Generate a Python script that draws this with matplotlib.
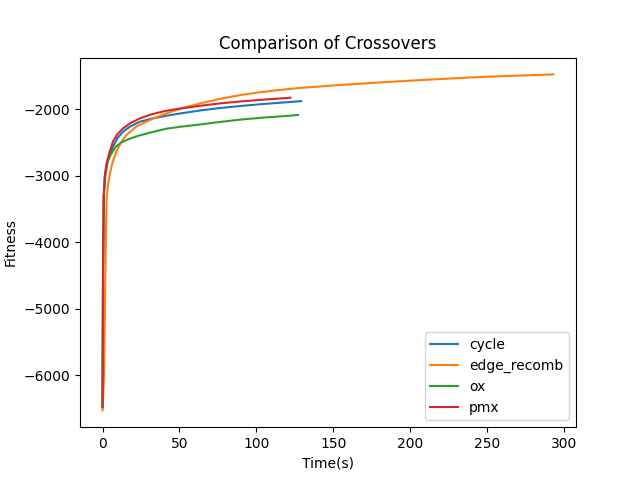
import matplotlib
matplotlib.use("Agg")
import matplotlib.pyplot as plt

# time (s) and best fitness per crossover operator
cycle_t = [0, 0.3, 0.8, 1.8, 3.5, 6.7, 9.5, 13.2, 18, 24, 32, 41, 50, 63, 75, 90, 105, 118, 129]
cycle_f = [-6490, -4500, -3300, -3000, -2770, -2567, -2440, -2340, -2260, -2190, -2140, -2100,
           -2065, -2020, -1985, -1950, -1920, -1898, -1878]

edge_t = [0, 1.0, 1.8, 2.6, 3.5, 4.6, 6.5, 8.9, 12, 15.4, 22, 30.6, 38, 45.7, 55, 63, 76, 90,
          102, 115, 128, 154, 180, 210, 239, 265, 293]
edge_f = [-6530, -6000, -4500, -3350, -3150, -2990, -2800, -2640, -2500, -2390, -2260, -2165,
          -2090, -2030, -1965, -1915, -1845, -1785, -1745, -1710, -1680, -1635, -1597, -1557,
          -1522, -1498, -1476]

ox_t = [0, 0.3, 0.8, 1.5, 3, 5.2, 8.7, 13, 18, 24, 32, 41, 50, 63, 75, 90, 105, 117, 127]
ox_f = [-6460, -4500, -3300, -3000, -2800, -2690, -2560, -2490, -2440, -2395, -2345, -2295,
        -2265, -2230, -2195, -2155, -2125, -2105, -2087]

pmx_t = [0, 0.3, 0.8, 1.5, 2.4, 4.5, 6.7, 9.5, 13.2, 18, 24, 32, 41, 50, 63, 75, 90, 105, 122]
pmx_f = [-6480, -4500, -3300, -3000, -2840, -2650, -2490, -2380, -2290, -2210, -2140, -2075,
         -2025, -1990, -1950, -1915, -1882, -1855, -1827]

fig, ax = plt.subplots(figsize=(6.4, 4.8), dpi=100)
ax.plot(cycle_t, cycle_f, label="cycle")
ax.plot(edge_t, edge_f, label="edge_recomb")
ax.plot(ox_t, ox_f, label="ox")
ax.plot(pmx_t, pmx_f, label="pmx")

ax.set_title("Comparison of Crossovers")
ax.set_xlabel("Time(s)")
ax.set_ylabel("Fitness")
ax.legend(loc="lower right")

fig.savefig("out.png")
